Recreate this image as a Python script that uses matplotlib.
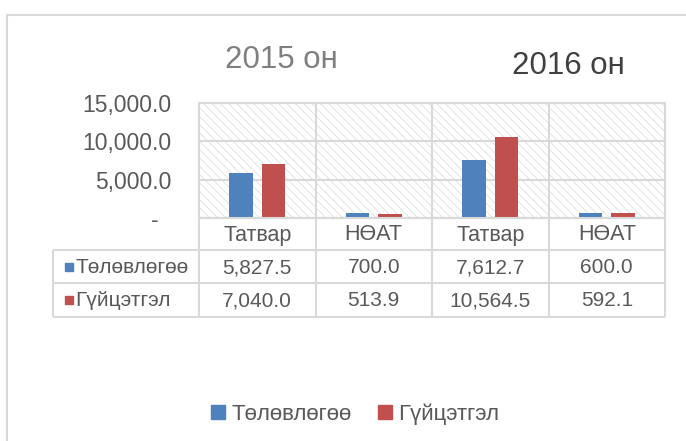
import matplotlib.pyplot as plt
from matplotlib.patches import Rectangle, Patch
from matplotlib.ticker import FuncFormatter

plt.rcParams['font.family'] = ['Liberation Sans', 'DejaVu Sans']
plt.rcParams['hatch.linewidth'] = 0.5
plt.rcParams['hatch.color'] = '#d6d6d6'

categories = ['Татвар', 'НӨАТ', 'Татвар', 'НӨАТ']
years = ['2015 он', '2016 он']
plan = [5827.5, 700.0, 7612.7, 600.0]
actual = [7040.0, 513.9, 10564.5, 592.1]
series_names = ['Төлөвлөгөө', 'Гүйцэтгэл']
yticks = [0, 5000, 10000, 15000]

blue = '#4f81bd'
red = '#c0504d'
grid_c = '#d9d9d9'
text_c = '#595959'

W, H = 686, 441
fig = plt.figure(figsize=(W / 100, H / 100), dpi=100)


def fx(px):
    return px / W


def fy(py):
    return 1 - py / H


# outer chart border
fig.add_artist(Rectangle((fx(7), fy(445)), fx(690) - fx(7), fy(15) - fy(445),
                         transform=fig.transFigure, fill=False,
                         edgecolor=grid_c, linewidth=1.5))

# plot area
left, right, top, bottom = 199, 665, 103, 218
ax = fig.add_axes([fx(left), fy(bottom), fx(right) - fx(left), fy(top) - fy(bottom)])
x = list(range(len(categories)))
ax.add_patch(Rectangle((0, 0), 1, 1, transform=ax.transAxes, facecolor='white',
                       edgecolor=grid_c, hatch='\\\\\\\\', linewidth=0, zorder=0))
ax.bar([i - 0.14 for i in x], plan, width=0.2, color=blue, zorder=3)
ax.bar([i + 0.14 for i in x], actual, width=0.2, color=red, zorder=3)
ax.set_xlim(-0.5, len(categories) - 0.5)
ax.set_ylim(0, 15000)
ax.set_yticks(yticks)
ax.yaxis.set_major_formatter(FuncFormatter(lambda v, p: '-  ' if v == 0 else f'{v:,.1f}'))
ax.tick_params(axis='y', length=0, pad=20, labelsize=16.5, labelcolor=text_c)
ax.set_xticks([])
ax.grid(axis='y', color=grid_c, linewidth=1.5, zorder=1)
for xv in [i + 0.5 for i in x[:-1]]:
    ax.axvline(xv, color=grid_c, linewidth=1.5, zorder=1)
for s in ax.spines.values():
    s.set_color(grid_c)
    s.set_linewidth(1.5)

# data table below
tleft, tbottom = 53, 317
col_w = (right - left) / len(categories)
tax = fig.add_axes([fx(tleft), fy(tbottom), fx(right) - fx(tleft), fy(bottom) - fy(tbottom)])
x0 = -0.5 - (left - tleft) / col_w
tax.set_xlim(x0, len(categories) - 0.5)
tax.set_ylim(tbottom, bottom)
tax.axis('off')
row_y = [bottom, 250, 283, tbottom]
lk = dict(color=grid_c, linewidth=1.5, solid_capstyle='butt', clip_on=False)
tax.plot([-0.5, len(categories) - 0.5], [bottom, bottom], **lk)
for yv in row_y[1:]:
    tax.plot([x0, len(categories) - 0.5], [yv, yv], **lk)
for xv in [i - 0.5 for i in range(len(categories) + 1)]:
    tax.plot([xv, xv], [bottom, tbottom], **lk)
tax.plot([x0, x0], [250, tbottom], **lk)

for i, c in enumerate(categories):
    tax.text(i, (row_y[0] + row_y[1]) / 2 + 1, c, ha='center', va='center',
             fontsize=15.5, color=text_c)
for r, (vals, name, col) in enumerate(zip([plan, actual], series_names, [blue, red])):
    yc = (row_y[r + 1] + row_y[r + 2]) / 2 + 1
    for i, v in enumerate(vals):
        tax.text(i, yc, f'{v:,.1f}', ha='center', va='center', fontsize=15, color=text_c)
    tax.plot([x0 + 15.5 / col_w], [yc - 1], marker='s', markersize=5.5, color=col,
             linestyle='none', clip_on=False)
    tax.text(x0 + 22 / col_w, yc, name, ha='left', va='center', fontsize=15, color=text_c)

# year titles
fig.text(fx(281), fy(60), years[0], ha='center', va='center', fontsize=22.5, color='#7f7f7f')
fig.text(fx(568), fy(66), years[1], ha='center', va='center', fontsize=22.5, color='#404040')

# legend
handles = [Patch(color=blue), Patch(color=red)]
fig.legend(handles, series_names, loc='center', bbox_to_anchor=(fx(355), fy(414)),
           ncol=2, frameon=False, fontsize=16, labelcolor=text_c,
           handlelength=0.64, handleheight=0.64, handletextpad=0.27, columnspacing=1.2)

fig.savefig('out.png', dpi=100)
